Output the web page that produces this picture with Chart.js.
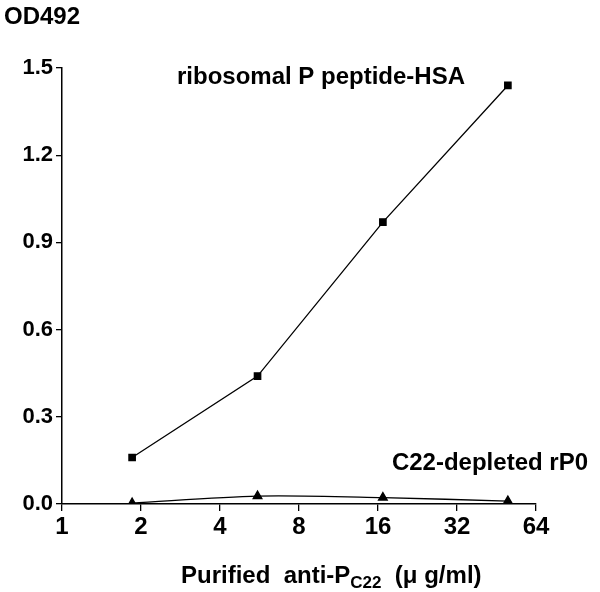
<!DOCTYPE html>
<html>
<head>
<meta charset="utf-8">
<script src="https://cdn.jsdelivr.net/npm/chart.js@4"></script>
<style>
  html, body { margin: 0; padding: 0; background: #fff; }
  #wrap { width: 600px; height: 592px; }
</style>
</head>
<body>
<div id="wrap"><canvas id="odChart" width="600" height="592"></canvas></div>
<script>
// antibody concentration (ug/ml), log2 axis
const conc = [1.85, 5.56, 16.7, 50];
const hsaOD = [0.16, 0.44, 0.97, 1.44];
const rp0OD = [0.003, 0.027, 0.022, 0.010];
const xTicks = [1, 2, 4, 8, 16, 32, 64];
const yTicks = [0, 0.3, 0.6, 0.9, 1.2, 1.5];

const FONT = '"Liberation Sans", Arial, sans-serif';

const textPlugin = {
    id: 'labels',
    afterDraw(chart) {
        const c = chart.ctx;
        c.save();
        c.fillStyle = '#000';
        c.textBaseline = 'middle';
        c.font = 'bold 24px ' + FONT;
        c.textAlign = 'left';
        c.fillText('OD492', 4, 17);
        c.textAlign = 'center';
        c.fillText('ribosomal P peptide-HSA', 321, 77);
        c.textAlign = 'right';
        c.fillText('C22-depleted rP0', 588, 463);

        // x axis title with subscript
        const y = 576;
        let x = 181;
        c.textAlign = 'left';
        c.font = 'bold 24px ' + FONT;
        c.fillText('Purified  anti-P', x, y);
        x += c.measureText('Purified  anti-P').width;
        c.font = 'bold 17px ' + FONT;
        c.fillText('C22', x, y + 7);
        x += c.measureText('C22').width;
        c.font = 'bold 24px ' + FONT;
        c.fillText('  (\u03bc g/ml)', x, y);
        c.restore();
    }
};

new Chart(document.getElementById('odChart').getContext('2d'), {
    type: 'line',
    data: {
        datasets: [{
            label: 'ribosomal P peptide-HSA',
            data: conc.map((v, i) => ({x: v, y: hsaOD[i]})),
            borderColor: '#000',
            backgroundColor: '#000',
            borderWidth: 1.3,
            pointStyle: 'rect',
            pointRadius: 4.5,
            tension: 0
        }, {
            label: 'C22-depleted rP0',
            data: conc.map((v, i) => ({x: v, y: rp0OD[i]})),
            borderColor: '#000',
            backgroundColor: '#000',
            borderWidth: 1.3,
            pointStyle: 'triangle',
            pointRadius: 5,
            tension: 0.3
        }]
    },
    options: {
        responsive: false,
        animation: false,
        layout: { padding: { top: 68, right: 64, left: 0, bottom: 0 } },
        plugins: { legend: { display: false }, tooltip: { enabled: false } },
        scales: {
            x: {
                type: 'logarithmic',
                min: 1,
                max: 64,
                afterBuildTicks: s => { s.ticks = xTicks.map(v => ({value: v})); },
                afterFit: s => { s.height = 88; },
                ticks: {
                    color: '#000',
                    font: { family: FONT, size: 24, weight: 'bold' },
                    padding: 2,
                    callback: v => String(v),
                    maxRotation: 0
                },
                grid: { drawOnChartArea: false, color: '#000', tickLength: 7, lineWidth: 1.3 },
                border: { color: '#000', width: 1.5 }
            },
            y: {
                min: 0,
                max: 1.5,
                afterBuildTicks: s => { s.ticks = yTicks.map(v => ({value: v})); },
                afterFit: s => { s.width = 62; },
                ticks: {
                    color: '#000',
                    font: { family: FONT, size: 22, weight: 'bold' },
                    padding: 3,
                    callback: v => v.toFixed(1)
                },
                grid: { drawOnChartArea: false, color: '#000', tickLength: 6, lineWidth: 1.3 },
                border: { color: '#000', width: 1.5 }
            }
        }
    },
    plugins: [textPlugin]
});
</script>
</body>
</html>
